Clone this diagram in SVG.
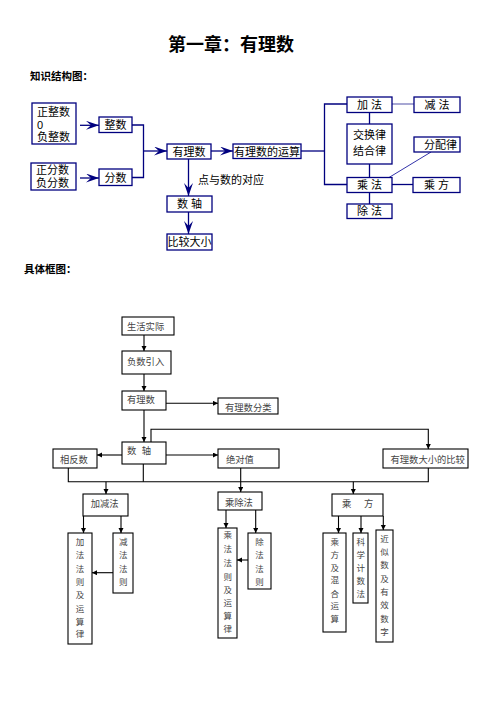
<svg xmlns="http://www.w3.org/2000/svg" width="496" height="702" viewBox="0 0 496 702">
<style>
  .t { font-family: "Liberation Sans", "Noto Sans CJK SC", sans-serif; font-size: 11px; fill: #000; }
  .h { font-family: "Noto Sans CJK SC", sans-serif; font-weight: bold; fill: #000; }
  .nb { fill: #fff; stroke: #00007f; stroke-width: 1.3; }
  .ct { fill: none; stroke: #00007f; stroke-width: 1.3; }
  .b { font-family: "Noto Sans CJK SC", sans-serif; font-size: 9.3px; fill: #444; }
  .vt { font-size: 8.5px; text-anchor: middle; }
  .bb { fill: #fff; stroke: #000; stroke-width: 1.1; }
  .bc { fill: none; stroke: #000; stroke-width: 1.1; }
  .v { text-anchor: middle; }
</style>
<defs>
  <marker id="chev" markerUnits="userSpaceOnUse" markerWidth="14" markerHeight="10" refX="13" refY="4.5" orient="auto">
    <path d="M0,0 L13,4.5 L0,9 L5,4.5 Z" fill="#00007f"/>
  </marker>
  <marker id="tri" markerUnits="userSpaceOnUse" markerWidth="6" markerHeight="6" refX="5" refY="2.5" orient="auto">
    <path d="M0,0 L5,2.5 L0,5 Z" fill="#000"/>
  </marker>
</defs>
<rect width="496" height="702" fill="#fff"/>

<text class="h" x="168" y="51" font-size="18">第一章：有理数</text>
<text class="h" x="30" y="80.3" font-size="10.5">知识结构图：</text>
<text class="h" x="24" y="272.7" font-size="10.5">具体框图：</text>

<!-- top connectors -->
<g id="top-connectors">
  <line class="ct" x1="80" y1="125.3" x2="99" y2="125.3" marker-end="url(#chev)"/>
  <line class="ct" x1="80" y1="178" x2="99" y2="178" marker-end="url(#chev)"/>
  <path class="ct" d="M132,125 H143.5 V177.5 H132"/>
  <line class="ct" x1="143.5" y1="151" x2="167" y2="151" marker-end="url(#chev)"/>
  <line class="ct" x1="211" y1="151" x2="233" y2="151" marker-end="url(#chev)"/>
  <line class="ct" x1="301" y1="151" x2="324.5" y2="151"/>
  <path class="ct" d="M347,104 H324.5 V184.5 H347"/>
  <line x1="392" y1="104" x2="414" y2="104" stroke="#7777bb" stroke-width="1.3"/>
  <line class="ct" x1="369.5" y1="112.5" x2="369.5" y2="124"/>
  <line class="ct" x1="369.5" y1="164" x2="369.5" y2="177.5"/>
  <line class="ct" x1="369.5" y1="192.5" x2="369.5" y2="204"/>
  <line class="ct" x1="392" y1="184.5" x2="413" y2="184.5"/>
  <line x1="389" y1="177.5" x2="431" y2="152" stroke="#3333aa" stroke-width="1"/>
  <line class="ct" x1="188.5" y1="159" x2="188.5" y2="196" marker-end="url(#chev)"/>
  <line class="ct" x1="188.5" y1="212" x2="188.5" y2="234" marker-end="url(#chev)"/>
  <text class="t" x="198" y="184" font-size="9.5">点与数的对应</text>
</g>

<!-- top nodes -->
<g id="t-intlist"><rect class="nb" x="32" y="103" width="44" height="41"/>
  <text class="t" x="37" y="115.9">正整数</text><text class="t" x="37" y="128.5">0</text><text class="t" x="37" y="140.9">负整数</text></g>
<g id="t-int"><rect class="nb" x="99" y="117" width="33" height="15.5"/><text class="t v" x="115.5" y="128.6">整数</text></g>
<g id="t-fraclist"><rect class="nb" x="31" y="163" width="45" height="27"/>
  <text class="t" x="36" y="174.2">正分数</text><text class="t" x="36" y="186.9">负分数</text></g>
<g id="t-frac"><rect class="nb" x="99" y="169" width="33" height="16.5"/><text class="t v" x="115.5" y="181.7">分数</text></g>
<g id="t-rational"><rect class="nb" x="167" y="144" width="44" height="15"/><text class="t v" x="189" y="155.8">有理数</text></g>
<g id="t-ops"><rect class="nb" x="233" y="144" width="68" height="14.5"/><text class="t v" x="267" y="155.5">有理数的运算</text></g>
<g id="t-axis"><rect class="nb" x="167" y="196" width="45" height="16"/><text class="t v" x="189.5" y="208.3">数 轴</text></g>
<g id="t-compare"><rect class="nb" x="167" y="234" width="45" height="16"/><text class="t v" x="189.5" y="246">比较大小</text></g>
<g id="t-add"><rect class="nb" x="347" y="97" width="45" height="15.5"/><text class="t v" x="369.5" y="109">加 法</text></g>
<g id="t-sub"><rect class="nb" x="414" y="97" width="46" height="15.5"/><text class="t v" x="437" y="109">减 法</text></g>
<g id="t-laws"><rect class="nb" x="347" y="124" width="45" height="40"/>
  <text class="t v" x="369.5" y="138.5">交换律</text><text class="t v" x="369.5" y="155">结合律</text></g>
<g id="t-dist"><rect class="nb" x="414" y="137" width="46" height="15"/><text class="t v" x="440.5" y="148.5">分配律</text></g>
<g id="t-mul"><rect class="nb" x="347" y="177.5" width="45" height="15"/><text class="t v" x="369.5" y="188.8">乘 法</text></g>
<g id="t-pow"><rect class="nb" x="413" y="177.5" width="47" height="15"/><text class="t v" x="436.5" y="188.8">乘 方</text></g>
<g id="t-div"><rect class="nb" x="347" y="204" width="45" height="14.5"/><text class="t v" x="369.5" y="215">除 法</text></g>

<!-- bottom connectors -->
<g id="bottom-connectors">
  <line class="bc" x1="144" y1="335" x2="144" y2="351" marker-end="url(#tri)"/>
  <line class="bc" x1="144" y1="374" x2="144" y2="391" marker-end="url(#tri)"/>
  <line class="bc" x1="166" y1="403.3" x2="218" y2="403.3" marker-end="url(#tri)"/>
  <line class="bc" x1="144" y1="410" x2="144" y2="442" marker-end="url(#tri)"/>
  <path class="bc" d="M151,442 V429.3 H428.3 V449" marker-end="url(#tri)"/>
  <line class="bc" x1="122" y1="455" x2="97" y2="455" marker-end="url(#tri)"/>
  <line class="bc" x1="166" y1="455" x2="218" y2="455" marker-end="url(#tri)"/>
  <path class="bc" d="M68.3,468 V481.7 H428.3 V468"/>
  <line class="bc" x1="143.3" y1="464" x2="143.3" y2="481.7"/>
  <line class="bc" x1="106" y1="481.7" x2="106" y2="494" marker-end="url(#tri)"/>
  <line class="bc" x1="353.3" y1="481.7" x2="353.3" y2="494" marker-end="url(#tri)"/>
  <line class="bc" x1="240.7" y1="468" x2="240.7" y2="492" marker-end="url(#tri)"/>
  <line class="bc" x1="83.5" y1="516" x2="83.5" y2="533" marker-end="url(#tri)"/>
  <line class="bc" x1="121" y1="516" x2="121" y2="533" marker-end="url(#tri)"/>
  <line class="bc" x1="113" y1="572.7" x2="92" y2="572.7" marker-end="url(#tri)"/>
  <line class="bc" x1="226" y1="510" x2="226" y2="528" marker-end="url(#tri)"/>
  <line class="bc" x1="255.7" y1="508" x2="255.7" y2="533" marker-end="url(#tri)"/>
  <line class="bc" x1="248" y1="560" x2="237" y2="560" marker-end="url(#tri)"/>
  <line class="bc" x1="338.5" y1="516" x2="338.5" y2="533" marker-end="url(#tri)"/>
  <line class="bc" x1="361" y1="516" x2="361" y2="533" marker-end="url(#tri)"/>
  <line class="bc" x1="383.3" y1="516" x2="383.3" y2="530" marker-end="url(#tri)"/>
</g>

<!-- bottom nodes -->
<g id="b-life"><rect class="bb" x="122" y="317" width="52" height="18"/><text class="b" x="127" y="329.5">生活实际</text></g>
<g id="b-neg"><rect class="bb" x="122" y="351" width="49" height="23"/><text class="b" x="127" y="365">负数引入</text></g>
<g id="b-rat"><rect class="bb" x="122" y="391" width="44" height="19"/><text class="b" x="127" y="403.4">有理数</text></g>
<g id="b-class"><rect class="bb" x="218" y="398" width="60" height="16"/><text class="b" x="225" y="410.7">有理数分类</text></g>
<g id="b-axis"><rect class="bb" x="122" y="442" width="44" height="22"/><text class="b" y="454.4"><tspan x="127">数</tspan><tspan x="141.7">轴</tspan></text></g>
<g id="b-opp"><rect class="bb" x="53" y="449" width="44" height="19"/><text class="b" x="60" y="462.7">相反数</text></g>
<g id="b-abs"><rect class="bb" x="218" y="449" width="61" height="19"/><text class="b" x="226" y="462.7">绝对值</text></g>
<g id="b-cmp"><rect class="bb" x="383" y="449" width="85" height="19"/><text class="b" x="390.5" y="463.4" font-size="9">有理数大小的比较</text></g>
<g id="b-addsub"><rect class="bb" x="83" y="494" width="45" height="22"/><text class="b" x="90.7" y="507.4">加减法</text></g>
<g id="b-muldiv"><rect class="bb" x="218" y="492" width="44" height="18"/><text class="b" x="225" y="506">乘除法</text></g>
<g id="b-pow"><rect class="bb" x="332" y="494" width="51" height="22"/><text class="b" y="507.4"><tspan x="342">乘</tspan><tspan x="364">方</tspan></text></g>

<g id="b-addrule"><rect class="bb" x="68" y="533" width="24" height="111"/>
  <text class="b vt"><tspan x="80" y="545">加</tspan><tspan x="80" y="558.3">法</tspan><tspan x="80" y="571.6">法</tspan><tspan x="80" y="585">则</tspan><tspan x="80" y="598.3">及</tspan><tspan x="80" y="611.6">运</tspan><tspan x="80" y="625">算</tspan><tspan x="80" y="637.4">律</tspan></text></g>
<g id="b-subrule"><rect class="bb" x="113" y="533" width="20" height="60"/>
  <text class="b vt"><tspan x="123.3" y="545">减</tspan><tspan x="123.3" y="558.3">法</tspan><tspan x="123.3" y="571.6">法</tspan><tspan x="123.3" y="585">则</tspan></text></g>
<g id="b-mulrule"><rect class="bb" x="218" y="528" width="19" height="110"/>
  <text class="b vt"><tspan x="227.8" y="538.4">乘</tspan><tspan x="227.8" y="551.7">法</tspan><tspan x="227.8" y="566">法</tspan><tspan x="227.8" y="580">则</tspan><tspan x="227.8" y="592.7">及</tspan><tspan x="227.8" y="606">运</tspan><tspan x="227.8" y="619.4">算</tspan><tspan x="227.8" y="631.7">律</tspan></text></g>
<g id="b-divrule"><rect class="bb" x="248" y="533" width="23" height="56"/>
  <text class="b vt"><tspan x="259.5" y="545">除</tspan><tspan x="259.5" y="558.3">法</tspan><tspan x="259.5" y="571.6">法</tspan><tspan x="259.5" y="585">则</tspan></text></g>
<g id="b-mixed"><rect class="bb" x="323" y="533" width="23" height="99"/>
  <text class="b vt"><tspan x="334.8" y="545">乘</tspan><tspan x="334.8" y="558.3">方</tspan><tspan x="334.8" y="571">及</tspan><tspan x="334.8" y="583.4">混</tspan><tspan x="334.8" y="596.7">合</tspan><tspan x="334.8" y="609.4">运</tspan><tspan x="334.8" y="621.7">算</tspan></text></g>
<g id="b-sci"><rect class="bb" x="353" y="533" width="15" height="70"/>
  <text class="b vt"><tspan x="360.8" y="545">科</tspan><tspan x="360.8" y="558.3">学</tspan><tspan x="360.8" y="571">计</tspan><tspan x="360.8" y="584">数</tspan><tspan x="360.8" y="596.7">法</tspan></text></g>
<g id="b-approx"><rect class="bb" x="376" y="530" width="17" height="112"/>
  <text class="b vt"><tspan x="384.5" y="541.7">近</tspan><tspan x="384.5" y="555">似</tspan><tspan x="384.5" y="568.4">数</tspan><tspan x="384.5" y="581.7">及</tspan><tspan x="384.5" y="595">有</tspan><tspan x="384.5" y="608.4">效</tspan><tspan x="384.5" y="621.7">数</tspan><tspan x="384.5" y="635">字</tspan></text></g>
</svg>
